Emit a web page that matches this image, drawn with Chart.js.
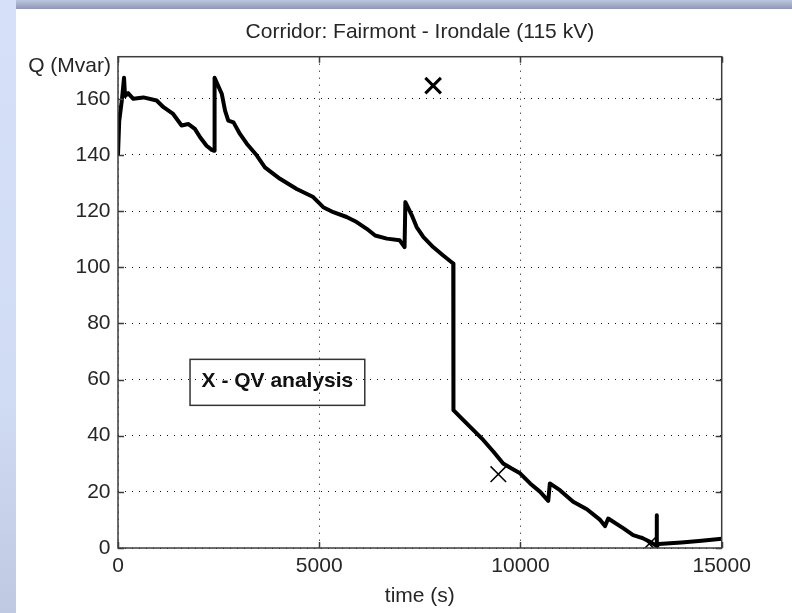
<!DOCTYPE html>
<html>
<head>
<meta charset="utf-8">
<script src="https://cdn.jsdelivr.net/npm/chart.js@4.4.1/dist/chart.umd.min.js"></script>
<style>
  html, body { margin: 0; padding: 0; }
  body {
    width: 792px; height: 613px; overflow: hidden; position: relative;
    background: linear-gradient(180deg, #d6e1f9 0%, #d0dbf4 65%, #bfcae2 100%);
  }
  #bar {
    position: absolute; left: 16px; top: 0; width: 776px; height: 9px;
    background: linear-gradient(180deg, #bcc6df 0%, #8e98b4 100%);
  }
  #panel { position: absolute; left: 16px; top: 9px; width: 776px; height: 604px; background: #fff; }
  #panel canvas { display: block; }
</style>
</head>
<body>
<div id="bar"></div>
<div id="panel"><canvas id="qv" width="776" height="604"></canvas></div>
<script>
// reactive power flow on the corridor over the simulation
const TIME_S = [0, 30, 100, 150, 175, 250, 380, 630, 960, 1130,
  1370, 1580, 1750, 1910, 2040, 2200, 2330, 2390, 2400, 2580,
  2660, 2740, 2870, 3030, 3200, 3450, 3650, 4025, 4440, 4850,
  5100, 5350, 5680, 5930, 6180, 6390, 6680, 7000, 7120, 7140,
  7300, 7420, 7590, 7830, 8080, 8290, 8330, 8335, 8500, 8830,
  9080, 9330, 9570, 9780, 9990, 10240, 10490, 10690, 10730, 10980,
  11310, 11650, 11980, 12100, 12180, 12560, 12800, 13050, 13220, 13340,
  13380, 13385, 13390, 13430, 14000, 14500, 15000];
const Q_MVAR = [140, 152, 160, 167.5, 161, 162, 160, 160.5, 159.4, 157,
  154.6, 150.5, 151, 149.3, 146.3, 143.3, 141.8, 141.5, 167.5, 161.7,
  155.8, 152.2, 151.6, 147.5, 144, 139.8, 135.6, 131.5, 127.9, 125,
  121.4, 119.6, 117.9, 116.1, 113.7, 111.3, 110.2, 109.6, 107.2, 123.2,
  118.5, 114.3, 110.7, 107.2, 104.2, 101.8, 101.3, 49.1, 46.7, 42,
  38.4, 34.3, 30.1, 28.3, 26.6, 23, 20, 16.8, 23, 20.6,
  16.5, 13.8, 10, 7.8, 10.5, 7, 4.6, 3.4, 2.2, 1.1,
  1, 11.7, 0.5, 1.4, 2, 2.6, 3.3];

// QV analysis results
const QV_TIME = [7830, 9450, 13200];
const QV_Q = [164.7, 26.3, 1.5];

const X_TICKS = [0, 5000, 10000, 15000];
const Y_TICKS = [0, 20, 40, 60, 80, 100, 120, 140, 160];

const FONT = 'Liberation Sans, Arial, Helvetica, sans-serif';
const INK = '#262626';
const NOTE_AT = { t: 1790, q: 67.2 };

// matlab style frame: full box, inward ticks, y label on top, text note
const frame = {
  id: 'frame',
  afterDraw(chart) {
    const { ctx, chartArea: a, scales: { x, y } } = chart;
    ctx.save();
    ctx.strokeStyle = '#3c3c3c';
    ctx.lineWidth = 1.5;
    ctx.strokeRect(a.left, a.top, a.right - a.left, a.bottom - a.top);
    ctx.beginPath();
    const len = 6;
    Y_TICKS.forEach(v => {
      const py = Math.round(y.getPixelForValue(v)) + 0.5;
      ctx.moveTo(a.left, py); ctx.lineTo(a.left + len, py);
      ctx.moveTo(a.right, py); ctx.lineTo(a.right - len, py);
    });
    X_TICKS.forEach(v => {
      const px = Math.round(x.getPixelForValue(v)) + 0.5;
      ctx.moveTo(px, a.bottom); ctx.lineTo(px, a.bottom - len);
      ctx.moveTo(px, a.top); ctx.lineTo(px, a.top + len);
    });
    ctx.stroke();

    ctx.fillStyle = INK;
    ctx.font = '21px ' + FONT;
    ctx.textAlign = 'right';
    ctx.textBaseline = 'middle';
    ctx.fillText('Q (Mvar)', a.left - 7, a.top + 9.5);

    const label = 'X - QV analysis';
    ctx.font = 'bold 21px ' + FONT;
    const w = ctx.measureText(label).width + 23;
    const bx = x.getPixelForValue(NOTE_AT.t);
    const by = y.getPixelForValue(NOTE_AT.q);
    ctx.strokeStyle = '#333';
    ctx.lineWidth = 1.5;
    ctx.strokeRect(bx, by, w, 46);
    ctx.fillStyle = '#111';
    ctx.textAlign = 'center';
    ctx.fillText(label, bx + w / 2, by + 22);
    ctx.restore();
  }
};

const gridOpts = { color: 'rgba(0,0,0,0.95)', lineWidth: 1, drawTicks: false };
const borderOpts = { display: false, dash: [1, 6] };

new Chart(document.getElementById('qv'), {
  type: 'line',
  data: {
    datasets: [
      {
        data: TIME_S.map((t, i) => ({ x: t, y: Q_MVAR[i] })),
        borderColor: '#000',
        borderWidth: 4,
        borderJoinStyle: 'round',
        pointRadius: 0,
        tension: 0
      },
      {
        data: QV_TIME.map((t, i) => ({ x: t, y: QV_Q[i] })),
        showLine: false,
        pointStyle: 'crossRot',
        pointRadius: 11,
        pointBorderColor: '#000',
        pointBorderWidth: QV_TIME.map((_, i) => i === 0 ? 3 : 1.5)
      }
    ]
  },
  options: {
    responsive: false,
    animation: false,
    devicePixelRatio: 1,
    layout: { padding: { left: 0, right: 70.3, top: 0, bottom: 0 } },
    plugins: {
      legend: { display: false },
      tooltip: { enabled: false },
      title: {
        display: true,
        fullSize: false,
        text: 'Corridor: Fairmont - Irondale (115 kV)',
        color: INK,
        font: { family: FONT, size: 21, weight: 'normal' },
        padding: { top: 11, bottom: 11.5 }
      }
    },
    scales: {
      x: {
        type: 'linear',
        min: 0,
        max: 15000,
        afterBuildTicks: s => { s.ticks = X_TICKS.map(v => ({ value: v })); },
        afterFit: s => { s.height = 65; },
        grid: gridOpts,
        border: borderOpts,
        ticks: {
          color: INK, padding: 6, maxRotation: 0,
          font: { family: FONT, size: 21 },
          callback: v => String(v)
        },
        title: {
          display: true, text: 'time (s)', color: INK,
          font: { family: FONT, size: 21 },
          padding: { top: 0, bottom: 3.7 }
        }
      },
      y: {
        type: 'linear',
        min: 0,
        max: 175,
        afterBuildTicks: s => { s.ticks = Y_TICKS.map(v => ({ value: v })); },
        afterFit: s => { s.width = 102; },
        grid: gridOpts,
        border: borderOpts,
        ticks: {
          color: INK, padding: 7.5,
          font: { family: FONT, size: 21 },
          callback: v => String(v)
        }
      }
    }
  },
  plugins: [frame]
});
</script>
</body>
</html>
